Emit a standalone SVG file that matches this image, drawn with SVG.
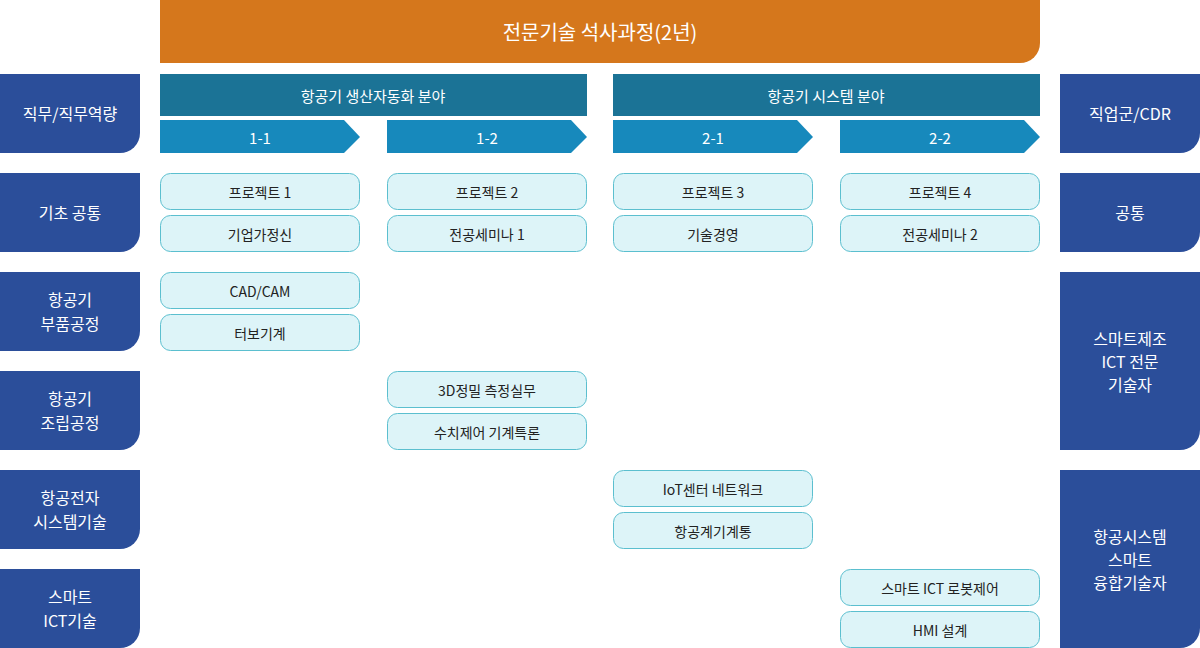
<svg xmlns="http://www.w3.org/2000/svg" width="1200" height="648" viewBox="0 0 1200 648">
<style>
text{font-family:"Noto Sans CJK KR","Noto Sans",sans-serif;text-anchor:middle;dominant-baseline:central}
.nav{fill:#2B4E9A}.nt{fill:#fff;font-size:16px}
.bar{fill:#1B7396}.arr{fill:#1789BC}.wt{fill:#fff;font-size:15px}
.pill{fill:#DDF4F8;stroke:#5BBFCF;stroke-width:1}.pt{fill:#222;font-size:14px}
</style>
<rect width="1200" height="648" fill="#fff"/>
<g id="title"><path d="M160 0H1040V43A20 20 0 0 1 1020 63H160Z" fill="#D5771C"/><text x="600" y="31" fill="#fff" font-size="20">전문기술 석사과정(2년)</text></g>
<g id="left">
<path class="nav" d="M0 74H140V133A20 20 0 0 1 120 153H0Z"/><text class="nt" x="70" y="113">직무/직무역량</text>
<path class="nav" d="M0 173H140V232A20 20 0 0 1 120 252H0Z"/><text class="nt" x="70" y="212">기초 공통</text>
<path class="nav" d="M0 272H140V331A20 20 0 0 1 120 351H0Z"/><text class="nt" x="70" y="299">항공기</text><text class="nt" x="70" y="323">부품공정</text>
<path class="nav" d="M0 371H140V430A20 20 0 0 1 120 450H0Z"/><text class="nt" x="70" y="398">항공기</text><text class="nt" x="70" y="422">조립공정</text>
<path class="nav" d="M0 470H140V529A20 20 0 0 1 120 549H0Z"/><text class="nt" x="70" y="497">항공전자</text><text class="nt" x="70" y="521">시스템기술</text>
<path class="nav" d="M0 569H140V628A20 20 0 0 1 120 648H0Z"/><text class="nt" x="70" y="596">스마트</text><text class="nt" x="70" y="620">ICT기술</text>
</g>
<g id="right">
<path class="nav" d="M1060 74H1200V133A20 20 0 0 1 1180 153H1060Z"/><text class="nt" x="1130" y="113">직업군/CDR</text>
<path class="nav" d="M1060 173H1200V232A20 20 0 0 1 1180 252H1060Z"/><text class="nt" x="1130" y="212">공통</text>
<path class="nav" d="M1060 272H1200V430A20 20 0 0 1 1180 450H1060Z"/><text class="nt" x="1130" y="338">스마트제조</text><text class="nt" x="1130" y="361">ICT 전문</text><text class="nt" x="1130" y="384">기술자</text>
<path class="nav" d="M1060 470H1200V628A20 20 0 0 1 1180 648H1060Z"/><text class="nt" x="1130" y="536">항공시스템</text><text class="nt" x="1130" y="559">스마트</text><text class="nt" x="1130" y="582">융합기술자</text>
</g>
<g id="headers">
<rect class="bar" x="160" y="74" width="427" height="42"/><text class="wt" x="373" y="95">항공기 생산자동화 분야</text>
<rect class="bar" x="613" y="74" width="427" height="42"/><text class="wt" x="826" y="95">항공기 시스템 분야</text>
<path class="arr" d="M160 120H344L360 137L344 153H160Z"/><text class="wt" x="260" y="137">1-1</text>
<path class="arr" d="M387 120H571L587 137L571 153H387Z"/><text class="wt" x="487" y="137">1-2</text>
<path class="arr" d="M613 120H797L813 137L797 153H613Z"/><text class="wt" x="713" y="137">2-1</text>
<path class="arr" d="M840 120H1024L1040 137L1024 153H840Z"/><text class="wt" x="940" y="137">2-2</text>
</g>
<g id="courses">
<rect class="pill" x="160.5" y="173.5" width="199" height="36" rx="10"/><text class="pt" x="260" y="191.5">프로젝트 1</text>
<rect class="pill" x="160.5" y="215.5" width="199" height="36" rx="10"/><text class="pt" x="260" y="233.5">기업가정신</text>
<rect class="pill" x="387.5" y="173.5" width="199" height="36" rx="10"/><text class="pt" x="487" y="191.5">프로젝트 2</text>
<rect class="pill" x="387.5" y="215.5" width="199" height="36" rx="10"/><text class="pt" x="487" y="233.5">전공세미나 1</text>
<rect class="pill" x="613.5" y="173.5" width="199" height="36" rx="10"/><text class="pt" x="713" y="191.5">프로젝트 3</text>
<rect class="pill" x="613.5" y="215.5" width="199" height="36" rx="10"/><text class="pt" x="713" y="233.5">기술경영</text>
<rect class="pill" x="840.5" y="173.5" width="199" height="36" rx="10"/><text class="pt" x="940" y="191.5">프로젝트 4</text>
<rect class="pill" x="840.5" y="215.5" width="199" height="36" rx="10"/><text class="pt" x="940" y="233.5">전공세미나 2</text>
<rect class="pill" x="160.5" y="272.5" width="199" height="36" rx="10"/><text class="pt" x="260" y="290.5">CAD/CAM</text>
<rect class="pill" x="160.5" y="314.5" width="199" height="36" rx="10"/><text class="pt" x="260" y="332.5">터보기계</text>
<rect class="pill" x="387.5" y="371.5" width="199" height="36" rx="10"/><text class="pt" x="487" y="389.5">3D정밀 측정실무</text>
<rect class="pill" x="387.5" y="413.5" width="199" height="36" rx="10"/><text class="pt" x="487" y="431.5">수치제어 기계특론</text>
<rect class="pill" x="613.5" y="470.5" width="199" height="36" rx="10"/><text class="pt" x="713" y="488.5">IoT센터 네트워크</text>
<rect class="pill" x="613.5" y="512.5" width="199" height="36" rx="10"/><text class="pt" x="713" y="530.5">항공계기계통</text>
<rect class="pill" x="840.5" y="569.5" width="199" height="36" rx="10"/><text class="pt" x="940" y="587.5">스마트 ICT 로봇제어</text>
<rect class="pill" x="840.5" y="611.5" width="199" height="36" rx="10"/><text class="pt" x="940" y="629.5">HMI 설계</text>
</g>
<g id="connectors"/>
</svg>
